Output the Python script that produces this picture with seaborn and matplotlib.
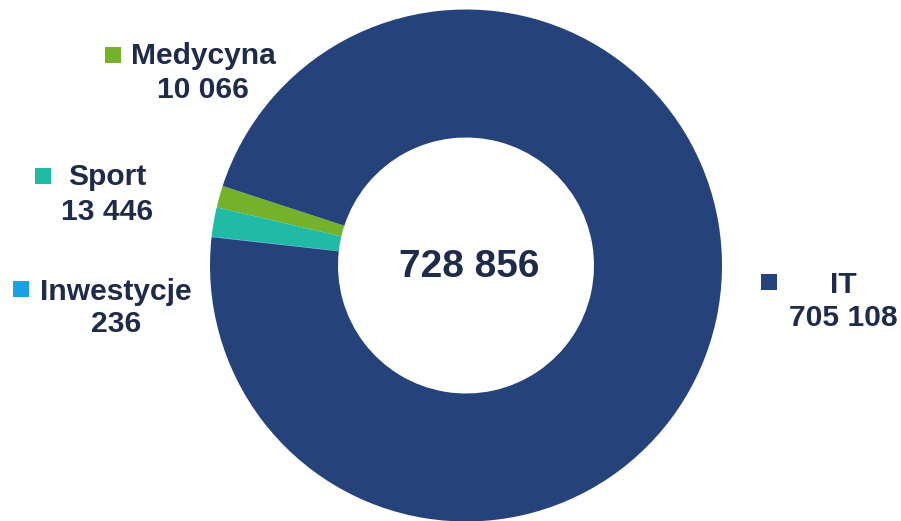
import matplotlib
matplotlib.use("Agg")
import matplotlib.pyplot as plt
import seaborn as sns

# dane
categories = ["Medycyna", "Sport", "Inwestycje", "IT"]
values = [10066, 13446, 236, 705108]
colors = ["#74b22c", "#21baa5", "#1ba1e2", "#26427a"]

# pozycje etykiet w pikselach (x środka tekstu, linia bazowa nazwy, linia bazowa liczby, środek kwadracika)
label_pos = {
    "Medycyna": (203, 64.5, 98, (112.5, 54.5)),
    "Sport": (107, 185, 219.5, (42.5, 175.5)),
    "Inwestycje": (116, 299.5, 332, (20.5, 289)),
    "IT": (843, 293, 326, (769, 282)),
}

sns.set_theme(style="white")
plt.rcParams['font.family'] = ['Liberation Sans', 'DejaVu Sans']
text_color = "#1e2b4a"

W, H = 901, 521
fig = plt.figure(figsize=(W / 100, H / 100), dpi=100)
ax = fig.add_axes([0, 0, 1, 1])


def py(y):
    # piksele od góry -> współrzędne osi
    return H - y


cx, cy = 466, py(265.5)
r_out, r_in = 256, 128

ax.pie(values, colors=colors, startangle=161.9, counterclock=True,
       radius=r_out, center=(cx, cy),
       wedgeprops=dict(width=r_out - r_in, linewidth=0))

ax.set_xlim(0, W)
ax.set_ylim(0, H)
ax.set_aspect("equal")
ax.axis("off")

total = sum(values)
ax.text(cx + 3, py(277), f"{total:,}".replace(",", " "), ha="center", va="baseline",
        fontsize=28, fontweight="bold", color=text_color)

for cat, val, col in zip(categories, values, colors):
    x, yb1, yb2, (sx, sy) = label_pos[cat]
    ax.text(x, py(yb1), cat, ha="center", va="baseline", fontsize=21.6,
            fontweight="bold", color=text_color)
    ax.text(x, py(yb2), f"{val:,}".replace(",", " "), ha="center", va="baseline",
            fontsize=21.6, fontweight="bold", color=text_color)
    ax.scatter([sx], [py(sy)], marker="s", s=120, color=col, linewidths=0)

fig.savefig("out.png", dpi=100, facecolor="white")
